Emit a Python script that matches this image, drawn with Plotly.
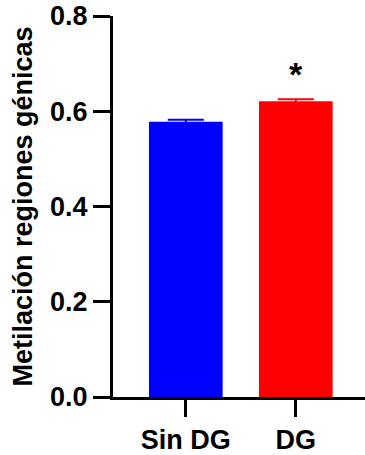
import plotly.graph_objects as go

categories = ["Sin DG", "DG"]
values = [0.578, 0.621]
errors = [0.004, 0.004]
colors = ["#0000FF", "#FF0000"]
y_ticks = [0.0, 0.2, 0.4, 0.6, 0.8]
y_tick_labels = ["0.0", "0.2", "0.4", "0.6", "0.8"]
y_title = "Metilación regiones génicas"
significance = "*"

FONT = "Liberation Sans, Arial, Helvetica, sans-serif"

fig = go.Figure()
for cat, val, err, col in zip(categories, values, errors, colors):
    fig.add_trace(go.Bar(
        x=[cat], y=[val],
        marker=dict(color=col, line=dict(width=0)),
        width=0.67,
        error_y=dict(type="data", array=[err], visible=True,
                     color=col, thickness=2, width=18),
        showlegend=False,
    ))

fig.add_annotation(
    x=categories[1], y=values[1] + errors[1],
    text=significance, showarrow=False,
    xref="x", yref="y", yanchor="bottom", yshift=4,
    font=dict(family=FONT, size=34, color="black", weight="bold"),
)

fig.update_layout(
    width=365, height=455,
    margin=dict(l=113, r=0, t=16, b=54),
    paper_bgcolor="white", plot_bgcolor="white",
    bargap=0.33,
    font=dict(family=FONT, color="black"),
    xaxis=dict(
        type="category", range=[-0.662, 1.629],
        showline=True, linecolor="black", linewidth=3,
        ticks="outside", ticklen=17, tickwidth=3, tickcolor="black",
        tickfont=dict(family=FONT, size=27, color="black", weight="bold"),
        showgrid=False, zeroline=False,
    ),
    yaxis=dict(
        range=[0, 0.8],
        tickvals=y_ticks, ticktext=y_tick_labels,
        showline=True, linecolor="black", linewidth=3,
        ticks="outside", ticklen=17, tickwidth=3, tickcolor="black",
        tickfont=dict(family=FONT, size=27, color="black", weight="bold"),
        showgrid=False, zeroline=False,
        title=dict(text=y_title, standoff=10,
                   font=dict(family=FONT, size=27, color="black", weight="bold")),
    ),
)

fig.write_html("out.html")
